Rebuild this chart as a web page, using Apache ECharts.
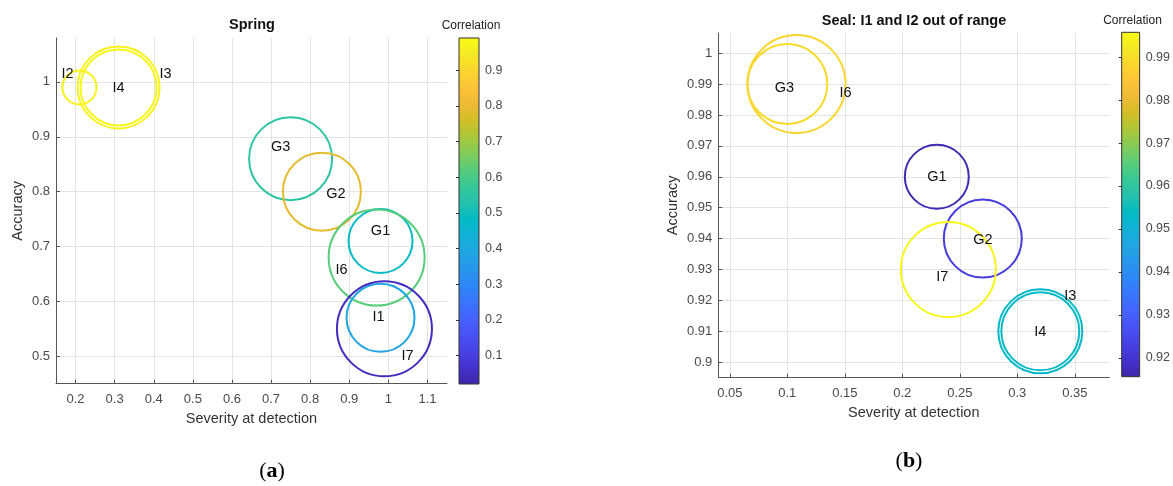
<!DOCTYPE html>
<html><head><meta charset="utf-8">
<script src="https://cdn.jsdelivr.net/npm/echarts@6/dist/echarts.min.js"></script>
<style>html,body{margin:0;padding:0;background:#fff}#c{width:1173px;height:486px}</style>
</head><body><div id="c"></div>
<script>
// ---------- (a) Spring ----------
const springNames       = ['I2','I3','I4','G3','G2','G1','I6','I1','I7'];
const springSeverity    = [0.21, 0.31, 0.31, 0.75, 0.83, 0.98, 0.97, 0.98, 0.99];
const springAccuracy    = [0.99, 0.99, 0.99, 0.86, 0.80, 0.71, 0.68, 0.57, 0.55];
const springCorrelation = [0.97, 0.97, 0.98, 0.55, 0.79, 0.48, 0.62, 0.39, 0.05];
const springSpread      = [17, 41, 38, 41.5, 39, 32, 48, 34, 47.5];
const springXTicks = [0.2,0.3,0.4,0.5,0.6,0.7,0.8,0.9,1,1.1];
const springYTicks = [0.5,0.6,0.7,0.8,0.9,1];
const springCbarTicks = [0.1,0.2,0.3,0.4,0.5,0.6,0.7,0.8,0.9];

// ---------- (b) Seal ----------
const sealNames       = ['G3','I6','G1','G2','I7','I3','I4'];
const sealSeverity    = [0.10, 0.108, 0.23, 0.27, 0.24, 0.32, 0.32];
const sealAccuracy    = [0.99, 0.99, 0.96, 0.94, 0.93, 0.91, 0.91];
const sealCorrelation = [0.989, 0.988, 0.917, 0.922, 0.995, 0.953, 0.953];
const sealSpread      = [40, 49, 32, 39, 47.5, 42, 39];
const sealXTicks = [0.05,0.1,0.15,0.2,0.25,0.3,0.35];
const sealYTicks = [0.9,0.91,0.92,0.93,0.94,0.95,0.96,0.97,0.98,0.99,1];
const sealCbarTicks = [0.92,0.93,0.94,0.95,0.96,0.97,0.98,0.99];

// ---------- styles ----------
const springLabelOffset = [[-12,-13],[47,-13],[0,1],[-10,-12],[14,2],[0,-10],[-35,13],[-2,-1],[23,27]];
const sealLabelOffset   = [[-3,4],[49,9],[0,0],[0,1],[-6,8],[30,-35],[0,1]];
const PARULA = ['#3e26a8','#4332cb','#4741e5','#4852f4','#4563fd','#3875fe','#2e87f7','#2796eb','#20a5e3','#12b1d6','#02bac3','#24c1ae','#37c897','#57cc7a','#81cc59','#abc739','#d1bf27','#efba36','#fec338','#fad62d','#f5e924','#f9fb15'];
const FONT = "'Liberation Sans', Arial, Helvetica, sans-serif";
const TICK_COLOR = '#4a4a4a';
const GRID_COLOR = '#e4e4e4';

function rows(xs, ys, cs, rs){ return xs.map((x,i)=>[x, ys[i], cs[i], rs[i]]); }

function circleRender(params, api){
  const p = api.coord([api.value(0), api.value(1)]);
  return {type:'circle', shape:{cx:p[0], cy:p[1], r:api.value(3)},
          style:{fill:'none', stroke:api.visual('color'), lineWidth:2}};
}
function labelRender(names, offs){
  return function(params, api){
    const p = api.coord([api.value(0), api.value(1)]);
    const o = offs[params.dataIndex];
    return {type:'text', x:p[0]+o[0], y:p[1]+o[1],
            style:{text:names[params.dataIndex], fill:'#111', font:'14.5px ' + FONT, align:'center', verticalAlign:'middle'}};
  };
}

function mainX(grid, min, max, ticks){
  return {gridIndex:grid, type:'value', min:min, max:max,
    name:'Severity at detection', nameLocation:'middle', nameGap:28,
    nameTextStyle:{color:'#333', fontSize:14.5, fontFamily:FONT},
    axisLine:{show:true, lineStyle:{color:'#555', width:1}},
    axisTick:{show:true, inside:true, length:4, customValues:ticks, lineStyle:{color:'#555'}},
    axisLabel:{customValues:ticks, margin:9, color:TICK_COLOR, fontSize:13, fontFamily:FONT},
    splitLine:{show:true, lineStyle:{color:GRID_COLOR, width:1}}};
}
function mainY(grid, min, max, ticks, gap){
  return {gridIndex:grid, type:'value', min:min, max:max,
    name:'Accuracy', nameLocation:'middle', nameGap:gap,
    nameTextStyle:{color:'#333', fontSize:14.5, fontFamily:FONT},
    axisLine:{show:true, lineStyle:{color:'#555', width:1}},
    axisTick:{show:true, inside:true, length:4, customValues:ticks, lineStyle:{color:'#555'}},
    axisLabel:{customValues:ticks, margin:6, color:TICK_COLOR, fontSize:13, fontFamily:FONT},
    splitLine:{show:true, lineStyle:{color:GRID_COLOR, width:1}}};
}
function cbarY(grid, min, max, ticks){
  return {gridIndex:grid, type:'value', position:'right', min:min, max:max,
    axisLine:{show:false},
    axisTick:{show:true, inside:true, length:3, customValues:ticks, lineStyle:{color:'#333'}},
    axisLabel:{customValues:ticks, margin:6, color:TICK_COLOR, fontSize:12.5, fontFamily:FONT},
    splitLine:{show:false}};
}
const gradient = {type:'linear', x:0, y:0, x2:0, y2:1,
  colorStops: PARULA.slice().reverse().map((c,i,a)=>({offset:i/(a.length-1), color:c}))};

const option = {
  animation:false,
  backgroundColor:'#fff',
  grid:[
    {left:56, top:38, width:391, height:345.7},
    {left:718.3, top:33, width:391, height:344.7},
    {left:459, top:38, width:20, height:346, show:true, backgroundColor:gradient, borderColor:'#333', borderWidth:1},
    {left:1121.7, top:32.3, width:20, height:344.4, show:true, backgroundColor:gradient, borderColor:'#333', borderWidth:1}
  ],
  xAxis:[
    mainX(0, 0.15, 1.15, springXTicks),
    mainX(1, 0.04, 0.38, sealXTicks),
    {gridIndex:2, type:'value', show:false, min:0, max:1},
    {gridIndex:3, type:'value', show:false, min:0, max:1}
  ],
  yAxis:[
    mainY(0, 0.45, 1.08, springYTicks, 31),
    mainY(1, 0.895, 1.0065, sealYTicks, 38),
    cbarY(2, 0.02, 0.99, springCbarTicks),
    cbarY(3, 0.9156, 0.9958, sealCbarTicks)
  ],
  visualMap:[
    {type:'continuous', show:false, seriesIndex:0, dimension:2, min:0.02, max:0.99, inRange:{color:PARULA}},
    {type:'continuous', show:false, seriesIndex:2, dimension:2, min:0.9156, max:0.9958, inRange:{color:PARULA}}
  ],
  series:[
    {type:'custom', xAxisIndex:0, yAxisIndex:0, renderItem:circleRender, clip:false,
     data:rows(springSeverity, springAccuracy, springCorrelation, springSpread)},
    {type:'custom', xAxisIndex:0, yAxisIndex:0, renderItem:labelRender(springNames, springLabelOffset), z:5,
     data:rows(springSeverity, springAccuracy, springCorrelation, springSpread)},
    {type:'custom', xAxisIndex:1, yAxisIndex:1, renderItem:circleRender, clip:false,
     data:rows(sealSeverity, sealAccuracy, sealCorrelation, sealSpread)},
    {type:'custom', xAxisIndex:1, yAxisIndex:1, renderItem:labelRender(sealNames, sealLabelOffset), z:5,
     data:rows(sealSeverity, sealAccuracy, sealCorrelation, sealSpread)}
  ],
  graphic:[
    {type:'text', x:252, y:25, style:{text:'Spring', font:'bold 14.5px ' + FONT, fill:'#111', align:'center', verticalAlign:'middle'}},
    {type:'text', x:914, y:20.5, style:{text:'Seal: I1 and I2 out of range', font:'bold 14.5px ' + FONT, fill:'#111', align:'center', verticalAlign:'middle'}},
    {type:'text', x:471, y:26, style:{text:'Correlation', font:'12px ' + FONT, fill:'#222', align:'center', verticalAlign:'middle'}},
    {type:'text', x:1132.5, y:21, style:{text:'Correlation', font:'12px ' + FONT, fill:'#222', align:'center', verticalAlign:'middle'}},
    {type:'text', x:272, y:471, style:{text:'{p|(}{b|a}{p|)}', align:'center', verticalAlign:'middle',
      rich:{p:{fontFamily:"'Liberation Serif', 'DejaVu Serif', serif", fontSize:22, fill:'#000'},
            b:{fontFamily:"'Liberation Serif', 'DejaVu Serif', serif", fontSize:22, fontWeight:'bold', fill:'#000'}}}},
    {type:'text', x:909, y:461, style:{text:'{p|(}{b|b}{p|)}', align:'center', verticalAlign:'middle',
      rich:{p:{fontFamily:"'Liberation Serif', 'DejaVu Serif', serif", fontSize:22, fill:'#000'},
            b:{fontFamily:"'Liberation Serif', 'DejaVu Serif', serif", fontSize:22, fontWeight:'bold', fill:'#000'}}}}
  ]
};
const chart = echarts.init(document.getElementById('c'), null, {renderer:'canvas'});
chart.setOption(option);
</script>
</body></html>
